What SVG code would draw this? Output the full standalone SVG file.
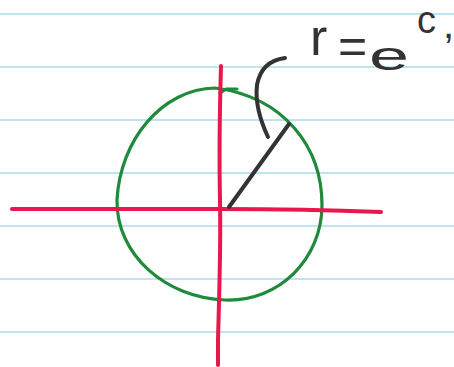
<svg xmlns="http://www.w3.org/2000/svg" width="454" height="367" viewBox="0 0 454 367">
<style>
.rule{stroke:#a9dbe8;stroke-width:1.6;fill:none}
.red{stroke:#e8174d;stroke-width:4;fill:none;stroke-linecap:round;stroke-linejoin:round}
.green{stroke:#1f8a3c;stroke-width:3.2;fill:none;stroke-linecap:round;stroke-linejoin:round}
.ink{stroke:#333;stroke-width:4;fill:none;stroke-linecap:round;stroke-linejoin:round}
.txt{font-family:"Liberation Sans",Arial,sans-serif;fill:#333}
</style>
<rect width="454" height="367" fill="#fefefe"/>
<g id="paper-lines">
<line class="rule" x1="0" y1="14" x2="454" y2="14"/>
<line class="rule" x1="0" y1="67" x2="454" y2="67"/>
<line class="rule" x1="0" y1="120" x2="454" y2="120"/>
<line class="rule" x1="0" y1="173" x2="454" y2="173"/>
<line class="rule" x1="0" y1="226" x2="454" y2="226"/>
<line class="rule" x1="0" y1="279" x2="454" y2="279"/>
<line class="rule" x1="0" y1="332" x2="454" y2="332"/>
</g>
<g id="circle">
<path class="green" d="M215,88 C162,89 120,140 117,200 C116,255 166,298 225,300 C280,302 322,258 322,205 C322,148 285,97 215,88 Z"/>
<path class="green" d="M220,93 L226,89 L237,89"/>
</g>
<g id="axes">
<path class="red" d="M221,66 C220,100 219,150 220,200 C221,250 219,300 218,340 L218,365"/>
<path class="red" d="M12,209 C80,209 150,209 220,209 C280,209 330,210 381,212"/>
</g>
<g id="radius">
<path class="ink" d="M229,207 L289,124"/>
<path class="ink" stroke-width="3.5" d="M285,58 C270,60 260,68 257,85 C255,102 260,120 268,137"/>
</g>
<g id="label">
<text class="txt"><tspan x="310" y="55" font-size="52">r</tspan><tspan x="338" y="63" font-size="50">=</tspan><tspan x="369" y="70" font-size="40" textLength="40" lengthAdjust="spacingAndGlyphs">e</tspan><tspan x="417" y="33" font-size="38">c</tspan><tspan x="443" y="38" font-size="40">,</tspan></text>
</g>
</svg>
